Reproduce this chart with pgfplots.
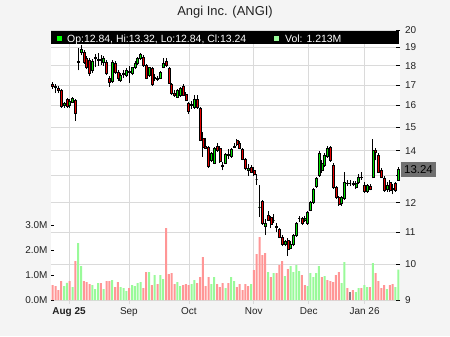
\documentclass[border=0pt]{standalone}
\usepackage{pgfplots}
\pgfplotsset{compat=1.18}
\usepackage{pgfplotstable}
\usepackage{fontspec}
\setmainfont{Liberation Sans}
\definecolor{bgc}{RGB}{244,244,244}
\definecolor{gridc}{RGB}{218,218,218}
\definecolor{cgreen}{RGB}{0,225,0}
\definecolor{cred}{RGB}{228,0,0}
\definecolor{vgreen}{RGB}{153,250,153}
\definecolor{vred}{RGB}{255,150,150}
\definecolor{vgrey}{RGB}{128,128,128}
\definecolor{txt}{RGB}{34,34,34}
\definecolor{boxc}{RGB}{112,112,112}

\pgfplotstableread{
i o h l c
0 17.05 17.15 16.80 16.95
1 16.95 17.05 16.60 16.90
2 16.85 16.95 16.60 16.75
3 16.75 16.80 15.90 15.95
4 16.00 16.15 15.90 16.10
5 16.30 16.35 15.90 15.95
6 16.00 16.30 15.90 16.20
7 16.15 16.40 16.10 16.35
8 16.25 16.30 15.30 15.65
9 18.20 18.95 17.75 18.25
10 18.75 19.15 18.55 18.90
11 18.75 18.85 18.10 18.20
12 18.40 18.50 17.80 17.90
13 18.30 18.40 17.45 17.60
14 17.75 18.35 17.60 18.25
15 18.40 18.65 17.90 18.45
16 18.30 18.70 18.00 18.35
17 18.35 18.60 18.05 18.30
18 18.20 18.50 18.00 18.40
19 18.20 18.30 17.50 17.60
20 17.35 17.45 16.90 17.15
21 17.20 18.30 17.10 18.20
22 18.10 18.25 17.55 17.65
23 17.65 17.75 17.20 17.35
24 17.25 17.60 17.15 17.50
25 17.55 17.75 17.35 17.60
26 17.50 17.85 17.40 17.75
27 17.70 18.00 17.10 17.65
28 17.60 17.95 17.50 17.90
29 17.90 18.25 17.80 18.15
30 18.15 18.45 18.05 18.40
31 18.40 18.70 18.30 18.60
32 18.45 18.55 17.95 18.00
33 18.00 18.10 17.30 17.35
34 17.50 17.95 17.40 17.90
35 17.85 17.95 16.95 17.05
36 17.35 17.55 17.20 17.40
37 17.35 17.45 17.20 17.30
38 17.35 17.70 17.30 17.65
39 17.90 18.40 17.85 18.15
40 18.25 18.40 17.95 18.00
41 17.85 17.95 17.05 17.10
42 17.05 17.10 16.50 16.60
43 16.60 16.75 16.40 16.50
44 16.40 16.80 16.35 16.75
45 16.50 16.90 16.40 16.85
46 16.95 17.05 16.45 16.50
47 16.55 16.65 16.20 16.25
48 16.10 16.15 15.60 15.75
49 16.00 16.20 15.85 16.05
50 15.90 16.50 15.85 16.30
51 16.30 16.50 15.85 15.90
52 15.85 15.95 14.40 14.45
53 14.50 14.80 13.75 14.15
54 14.20 14.55 14.05 14.10
55 14.15 14.20 13.30 13.35
56 13.60 13.95 13.55 13.90
57 13.50 14.15 13.45 14.10
58 14.20 14.30 13.95 14.00
59 14.10 14.20 13.50 13.55
60 13.40 13.55 13.20 13.35
61 13.50 13.90 13.45 13.85
62 13.80 14.05 13.65 13.85
63 13.75 14.10 13.70 14.05
64 14.20 14.30 14.10 14.15
65 14.45 14.50 14.20 14.25
66 14.30 14.40 14.05 14.10
67 14.05 14.10 13.60 13.65
68 13.65 13.70 13.20 13.30
69 13.22 13.45 13.00 13.30
70 13.32 13.40 13.10 13.12
71 13.20 13.35 13.00 13.05
72 12.85 13.05 12.65 12.85
73 11.85 12.65 11.50 11.85
74 12.05 12.10 11.25 11.30
75 11.20 11.45 10.90 11.30
76 11.55 11.70 11.40 11.40
77 11.50 11.55 11.15 11.25
78 11.40 11.60 11.30 11.40
79 11.20 11.30 11.00 11.15
80 11.10 11.15 10.80 10.85
81 10.85 10.90 10.55 10.60
82 10.60 10.75 10.55 10.70
83 10.75 10.80 10.25 10.45
84 10.50 10.70 10.45 10.60
85 10.60 10.95 10.55 10.90
86 10.90 11.35 10.85 11.30
87 11.45 11.55 11.35 11.45
88 11.45 11.50 11.25 11.30
89 11.40 11.55 11.35 11.45
90 11.30 11.70 11.25 11.65
91 11.75 12.05 11.70 12.00
92 12.00 12.55 11.95 12.50
93 12.60 12.95 12.55 12.90
94 13.00 14.00 12.95 13.90
95 13.20 13.60 13.10 13.50
96 13.40 13.90 13.35 13.80
97 13.75 14.20 13.70 14.10
98 14.15 14.20 13.55 13.60
99 13.40 13.50 12.50 12.55
100 12.55 12.60 12.15 12.20
101 12.20 12.25 11.90 11.95
102 11.98 12.25 11.90 12.20
103 12.15 13.15 12.10 12.75
104 12.72 12.85 12.60 12.70
105 12.70 12.85 12.60 12.70
106 12.70 12.80 12.60 12.68
107 12.55 12.80 12.50 12.72
108 12.75 13.05 12.70 12.95
109 12.95 13.15 12.85 12.92
110 12.65 12.75 12.35 12.40
111 12.40 12.70 12.35 12.65
112 12.60 12.70 12.45 12.50
113 12.95 14.50 12.90 14.00
114 14.00 14.10 13.60 13.95
115 13.80 13.90 13.10 13.15
116 13.20 13.30 12.90 12.95
117 12.90 13.00 12.40 12.45
118 12.50 12.75 12.40 12.65
119 12.75 12.85 12.40 12.45
120 12.50 12.70 12.30 12.52
121 12.70 12.75 12.40 12.45
122 12.84 13.32 12.84 13.24
}\ohlc

\pgfplotstableread{
i v d
0 0.60 -1
1 0.56 -1
2 0.40 -1
3 0.76 -1
4 0.56 1
5 0.69 1
6 0.76 -1
7 0.52 1
8 1.56 -1
9 2.28 1
10 1.36 1
11 0.76 -1
12 0.72 -1
13 0.64 -1
14 0.60 1
15 0.44 1
16 0.68 1
17 0.68 -1
18 0.44 1
19 0.76 -1
20 0.76 -1
21 0.80 1
22 0.52 -1
23 0.72 -1
24 0.52 1
25 0.48 1
26 0.36 1
27 0.48 -1
28 0.60 1
29 0.56 1
30 0.68 1
31 0.72 1
32 0.48 -1
33 1.12 -1
34 1.12 1
35 0.60 -1
36 1.00 1
37 0.64 -1
38 1.00 1
39 0.84 1
40 2.88 -1
41 1.04 -1
42 1.08 -1
43 0.64 -1
44 0.72 1
45 0.56 1
46 0.60 -1
47 0.64 -1
48 0.60 -1
49 0.64 1
50 0.80 1
51 0.68 -1
52 0.92 -1
53 1.72 -1
54 0.56 -1
55 0.92 -1
56 0.64 1
57 0.92 1
58 0.64 -1
59 0.52 -1
60 0.68 -1
61 0.48 1
62 0.68 -1
63 0.92 1
64 0.76 1
65 0.52 -1
66 0.64 -1
67 0.40 -1
68 0.64 -1
69 0.56 -1
70 0.64 1
71 1.20 -1
72 1.84 -1
73 2.52 -1
74 1.80 -1
75 1.88 -1
76 1.12 1
77 0.92 -1
78 1.08 1
79 1.08 -1
80 1.40 -1
81 1.56 -1
82 0.96 1
83 1.24 -1
84 1.36 1
85 1.12 1
86 1.40 1
87 1.16 1
88 1.00 -1
89 0.60 -1
90 0.56 1
91 1.08 1
92 0.92 1
93 1.08 1
94 1.36 1
95 0.92 -1
96 0.96 1
97 0.80 -1
98 0.76 -1
99 0.72 -1
100 1.00 -1
101 1.12 -1
102 0.68 1
103 1.52 1
104 0.48 -1
105 0.32 0
106 0.40 -1
107 0.32 1
108 0.48 1
109 0.48 -1
110 0.60 1
111 0.52 1
112 0.52 -1
113 1.48 1
114 1.08 -1
115 0.76 -1
116 0.48 -1
117 0.60 -1
118 0.44 1
119 0.60 -1
120 0.64 -1
121 0.52 1
122 1.213 1
}\vol

\begin{document}
\begin{tikzpicture}[x=1bp,y=1bp]
\fill[bgc] (0,0) rectangle (450,336);
\useasboundingbox (0,0) rectangle (450,336);

% price axis with grid and candles
\begin{axis}[
  at={(51bp,36bp)}, anchor=south west, scale only axis,
  width=349bp, height=270bp,
  xmin=-0.6, xmax=122.6,
  ymode=log, ymin=9, ymax=20,
  axis background/.style={fill=white},
  axis line style={draw=none},
  xtick={5.75,26.9,48.1,71,90.4,110.1},
  xticklabels={\textbf{Aug 25},Sep,Oct,Nov,Dec,Jan 26},
  xtick pos=left, xtick align=outside,
  ytick={9,10,11,12,13,14,15,16,17,18,19,20},
  yticklabels={9,10,11,12,,14,15,16,17,18,19,20},
  ytick pos=right, yticklabel pos=right, ytick align=inside,
  minor y tick num=0, yminorticks=false,
  major tick length=4bp,
  grid=major, grid style={gridc, line width=0.8bp},
  tick style={black, line width=0.6bp},
  x tick style={gridc, line width=0.8bp},
  ticklabel style={font=\fontsize{10}{12}\selectfont, text=txt},
  yticklabel style={xshift=1.5bp},
  clip=true,
]
\pgfplotstablegetrowsof{\ohlc}
\pgfmathtruncatemacro{\lastrow}{\pgfplotsretval-1}
\pgfplotsforeachungrouped \rr in {0,...,\lastrow}{%
  \pgfplotstablegetelem{\rr}{i}\of\ohlc \edef\cI{\pgfplotsretval}%
  \pgfplotstablegetelem{\rr}{o}\of\ohlc \edef\cO{\pgfplotsretval}%
  \pgfplotstablegetelem{\rr}{h}\of\ohlc \edef\cH{\pgfplotsretval}%
  \pgfplotstablegetelem{\rr}{l}\of\ohlc \edef\cL{\pgfplotsretval}%
  \pgfplotstablegetelem{\rr}{c}\of\ohlc \edef\cC{\pgfplotsretval}%
  \pgfmathsetmacro{\xA}{\cI-0.36}%
  \pgfmathsetmacro{\xB}{\cI+0.36}%
  \pgfmathtruncatemacro{\cUp}{\cC>=\cO}%
  \ifnum\cUp=1 \def\cFill{cgreen}\else\def\cFill{cred}\fi
  \edef\temp{%
    \noexpand\addplot[black, line width=0.7bp, forget plot] coordinates {(\cI,\cL) (\cI,\cH)};
    \noexpand\addplot[draw=black, fill=\cFill, line width=0.5bp, forget plot] coordinates {(\xA,\cO) (\xB,\cO) (\xB,\cC) (\xA,\cC)} -- cycle;
  }\temp
}
\end{axis}

% volume axis
\begin{axis}[
  at={(51bp,36bp)}, anchor=south west, scale only axis,
  width=349bp, height=270bp,
  xmin=-0.6, xmax=122.6,
  ymin=0, ymax=10.8,
  hide x axis,
  axis line style={draw=none},
  ytick={0,1,2,3},
  yticklabels={0.0M,1.0M,2.0M,3.0M},
  ytick pos=left, ytick align=inside,
  major tick length=3bp,
  tick style={black, line width=0.6bp},
  ticklabel style={font=\fontsize{10}{12}\selectfont, text=txt},
]
\addplot[ybar, bar width=2bp, bar shift=0pt, fill=vred, draw=none]
  table[x=i, y=v, restrict expr to domain={\thisrow{d}}{-1:-1}] {\vol};
\addplot[ybar, bar width=2bp, bar shift=0pt, fill=vgreen, draw=none]
  table[x=i, y=v, restrict expr to domain={\thisrow{d}}{1:1}] {\vol};
\addplot[ybar, bar width=2bp, bar shift=0pt, fill=vgrey, draw=none]
  table[x=i, y=v, restrict expr to domain={\thisrow{d}}{0:0}] {\vol};
\end{axis}

% title
\node[anchor=base, font=\fontsize{13}{15}\selectfont, text=txt] at (225,321) {Angi Inc. (ANGI)};
% header bar
\fill[black] (51,291.7) rectangle (399,305);
\fill[green] (56.7,295) rectangle (62,300.3);
\node[anchor=base west, inner sep=0, text=white, font=\fontsize{10.5}{12}\selectfont] at (67,293.6) {Op:12.84, Hi:13.32, Lo:12.84, Cl:13.24};
\fill[vgreen] (274,295) rectangle (279.3,300.3);
\node[anchor=base west, inner sep=0, text=white, font=\fontsize{10.5}{12}\selectfont] at (285,293.6) {Vol: 1.213M};
% current price box
\fill[boxc] (401,159) rectangle (436,174);
\node[font=\fontsize{11.5}{13}\selectfont, text=black, inner sep=0] at (418.5,166.5) {13.24};
\end{tikzpicture}
\end{document}
